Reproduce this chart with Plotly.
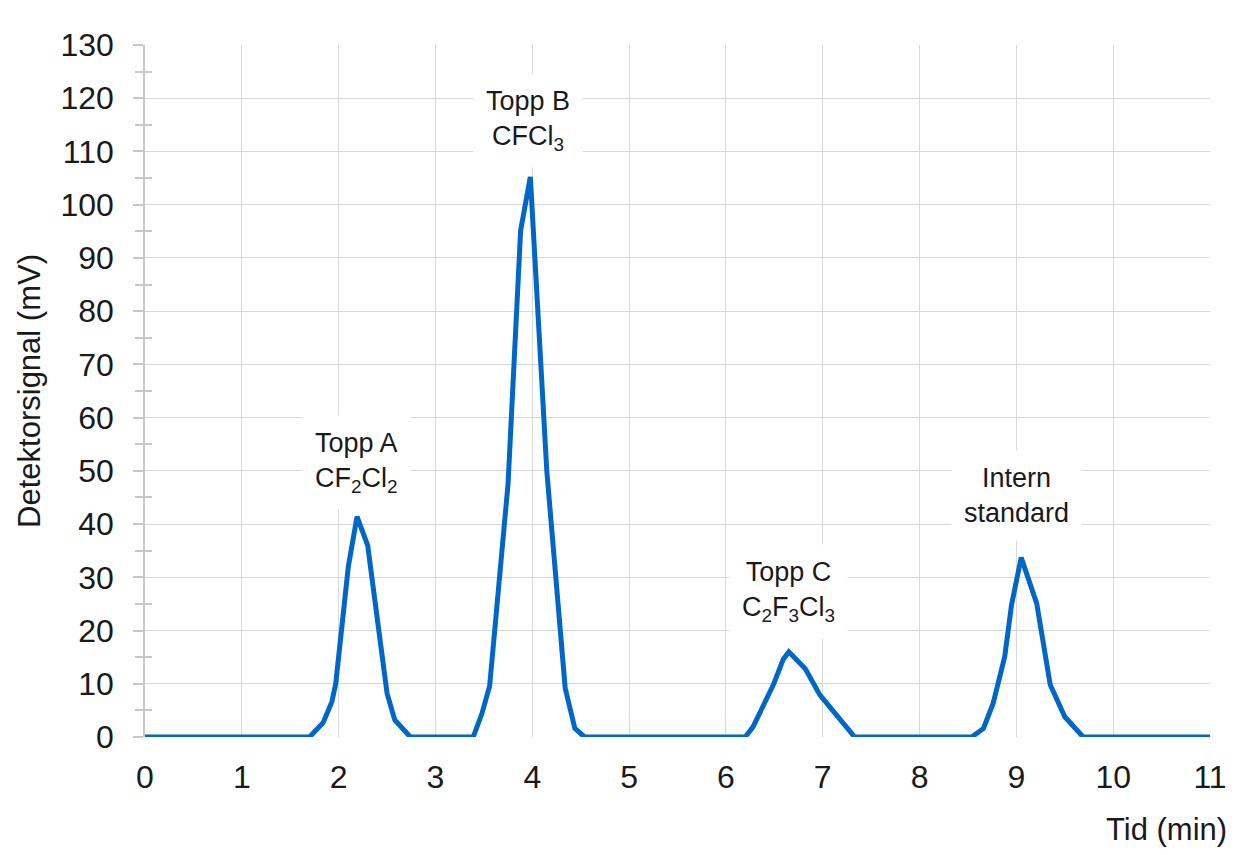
import plotly.graph_objects as go

# Chromatogram data (min, mV)
tid = [0, 1.70, 1.84, 1.93, 1.97, 2.10, 2.19, 2.30, 2.50, 2.58, 2.74,
       3.39, 3.48, 3.56, 3.75, 3.88, 3.98, 4.15, 4.34, 4.44, 4.54,
       6.20, 6.28, 6.49, 6.59, 6.65, 6.82, 6.97, 7.13, 7.33,
       8.54, 8.66, 8.76, 8.88, 8.95, 9.05, 9.21, 9.27, 9.35, 9.50, 9.69, 11]
signal = [0, 0, 2.7, 6.6, 10, 32, 41.4, 36, 8.2, 3.2, 0,
          0, 4.4, 9.6, 47.6, 95.2, 105.2, 50, 9.2, 1.6, 0,
          0, 1.9, 9.8, 14.5, 16.0, 12.8, 7.9, 4.4, 0,
          0, 1.6, 6.3, 15.1, 24.8, 33.7, 25.1, 18, 9.8, 3.8, 0, 0]

# Peak labels
label_text = ["Topp A<br>CF<sub>2</sub>Cl<sub>2</sub>",
              "Topp B<br>CFCl<sub>3</sub>",
              "Topp C<br>C<sub>2</sub>F<sub>3</sub>Cl<sub>3</sub>",
              "Intern<br>standard"]
label_x = [2.185, 3.96, 6.65, 9.0]
label_y = [51.6, 115.8, 27.4, 45.3]

x_ticks = list(range(0, 12))
y_ticks = list(range(0, 131, 10))
y_minor = list(range(5, 130, 10))

FONT = "Liberation Sans, Arial, sans-serif"
GRID = "#d9d9d9"
AXIS = "#c8c8c8"

fig = go.Figure()
fig.add_trace(go.Scatter(x=tid, y=signal, mode="lines",
                         line=dict(color="#0067c6", width=5),
                         showlegend=False, hoverinfo="skip"))
# invisible trace for overlay axis (inside minor ticks)
fig.add_trace(go.Scatter(x=[0, 11], y=[0, 130], mode="markers",
                         marker=dict(opacity=0), yaxis="y2",
                         showlegend=False, hoverinfo="skip"))

for t, xv, yv in zip(label_text, label_x, label_y):
    fig.add_annotation(x=xv, y=yv, xref="x", yref="y", text=t,
                       showarrow=False, bgcolor="white", borderpad=12,
                       font=dict(family=FONT, size=27, color="#1a1a1a"),
                       align="center")

fig.add_annotation(text="Tid (min)", xref="paper", yref="paper",
                   x=1.0, y=-0.134, xshift=19, xanchor="right", yanchor="middle",
                   showarrow=False, font=dict(family=FONT, size=31, color="#1a1a1a"))
fig.add_annotation(text="Detektorsignal (mV)", xref="paper", yref="paper",
                   x=-0.109, y=0.5, xanchor="center", yanchor="middle",
                   textangle=-90, showarrow=False,
                   font=dict(family=FONT, size=31, color="#1a1a1a"))

fig.update_layout(
    width=1242, height=855,
    margin=dict(l=137, r=40, t=37, b=126),
    paper_bgcolor="white", plot_bgcolor="white",
    font=dict(family=FONT, size=32, color="#1a1a1a"),
    xaxis=dict(range=[0, 11], tickvals=x_ticks, showgrid=True, gridcolor=GRID,
               gridwidth=1.3, zeroline=False, showline=False, ticks="",
               ticklabelstandoff=18, tickfont=dict(size=32)),
    yaxis=dict(range=[0, 130], tickvals=y_ticks, showgrid=True, gridcolor=GRID,
               gridwidth=1.3, zeroline=False, showline=True, linecolor=AXIS,
               linewidth=1.5, ticks="outside", ticklen=10, tickcolor=AXIS,
               tickwidth=1.5, ticklabelstandoff=13, tickfont=dict(size=32),
               minor=dict(tickvals=y_minor, ticks="outside", ticklen=8,
                          tickcolor=AXIS, tickwidth=1.5, showgrid=False)),
    yaxis2=dict(range=[0, 130], overlaying="y", side="left", anchor="x",
                tickvals=y_minor, ticks="inside", ticklen=7, tickcolor=AXIS,
                tickwidth=1.5, showticklabels=False, showgrid=False,
                zeroline=False, showline=False),
)

fig.write_html("out.html")
